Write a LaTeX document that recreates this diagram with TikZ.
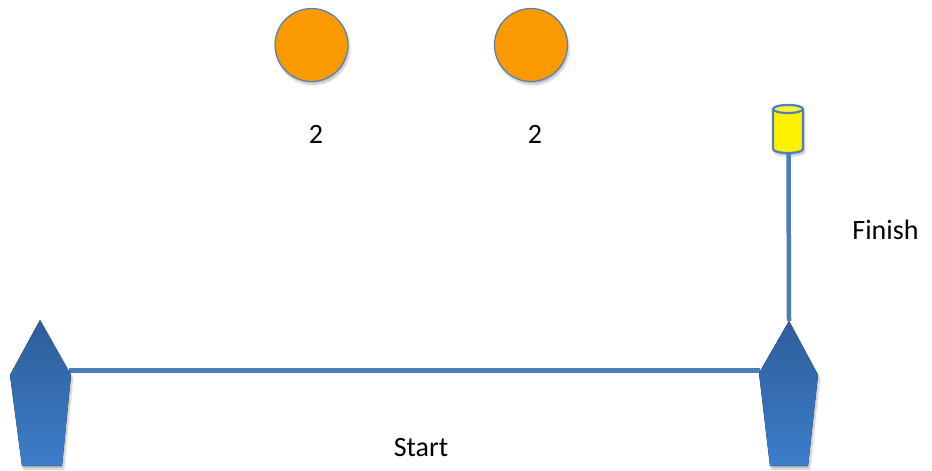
\documentclass[tikz,border=0pt]{standalone}
\usepackage{fontspec}
\setmainfont{Carlito}
\usetikzlibrary{shadows.blur}
\definecolor{lineblue}{HTML}{4A7EBB}
\definecolor{edgeblue}{HTML}{4F81BD}
\definecolor{boattop}{HTML}{2E5E99}
\definecolor{boatbot}{HTML}{3C7DCA}
\definecolor{markorange}{HTML}{FA9A00}
\tikzset{
  softshadow/.style={blur shadow={shadow xshift=1.5pt,shadow yshift=-3pt,shadow blur steps=8,shadow opacity=25}},
  boatshape/.style={top color=boattop,bottom color=boatbot,draw=none,softshadow},
  markball/.style={circle,fill=markorange,draw=edgeblue,line width=1.2pt,minimum size=73pt,inner sep=0pt,softshadow},
  rope/.style={draw=lineblue,line width=5pt},
  buoyline/.style={draw=edgeblue,line width=2.2pt},
  lbl/.style={font=\fontsize{28}{30}\selectfont,anchor=base,inner sep=0pt}
}
\begin{document}
\begin{tikzpicture}[x=1pt,y=-1pt]
\useasboundingbox (0,0) rectangle (932,471);
% left boat
\coordinate (ltip) at (40,320);
\coordinate (lls) at (10,375);
\coordinate (lrs) at (71,375);
\coordinate (llb) at (22,466);
\coordinate (lrb) at (62,466);
\coordinate (lline) at (69,370);
% right boat
\coordinate (rtip) at (789,321);
\coordinate (rls) at (759,373);
\coordinate (rrs) at (818,375);
\coordinate (rlb) at (770,466);
\coordinate (rrb) at (808,466);
\coordinate (rline) at (760,370);
% start line
\draw[rope] (lline) -- (rline);
% finish buoy (cylinder)
\coordinate (buoytop) at (788,109);
\coordinate (buoybot) at (788.5,153);
\fill[yellow,softshadow] (773,109) -- (773,149) arc[start angle=180,end angle=0,x radius=15,y radius=4] -- (803,109) arc[start angle=0,end angle=-180,x radius=15,y radius=4] -- cycle;
\draw[buoyline] (773,109) -- (773,149) arc[start angle=180,end angle=0,x radius=15,y radius=4] -- (803,109);
\draw[buoyline,fill=yellow!80!white] (buoytop) ellipse[x radius=15,y radius=4];
\draw[rope,line width=4.5pt] (buoybot) -- (rtip);
% boats
\fill[boatshape] (ltip) -- (lrs) -- (lrb) -- (llb) -- (lls) -- cycle;
\fill[boatshape] (rtip) -- (rrs) -- (rrb) -- (rlb) -- (rls) -- cycle;
% marks
\node[markball] (m1) at (311.5,45) {};
\node[markball] (m2) at (531,45) {};
% labels
\node[lbl] (n1) at (316,143) {2};
\node[lbl] (n2) at (535,143) {2};
\node[lbl] (start) at (421,456) {Start};
\node[lbl] (finish) at (885.5,239) {Finish};
\end{tikzpicture}
\end{document}
